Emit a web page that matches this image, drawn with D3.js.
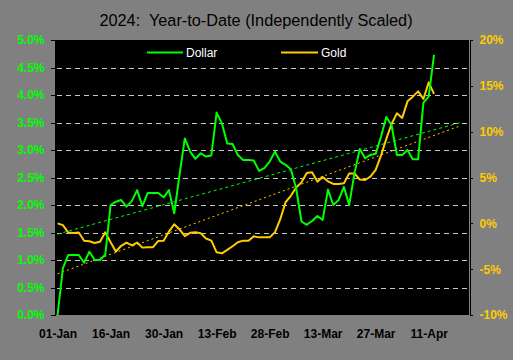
<!DOCTYPE html>
<html>
<head>
<meta charset="utf-8">
<script src="https://cdn.jsdelivr.net/npm/d3@7"></script>
<style>
  html, body { margin: 0; padding: 0; background: #808080; }
  svg { display: block; }
</style>
</head>
<body>
<svg id="chart" width="513" height="360"></svg>
<script>
// ---- data (trading-day index 0 = 01-Jan) ----
const dollar = [0.00, 0.85, 1.09, 1.09, 1.09, 0.95, 1.15, 1.00, 1.00, 1.10,
  2.00, 2.06, 2.09, 1.97, 2.07, 2.27, 1.98, 2.22, 2.22, 2.22,
  2.14, 2.27, 1.85, 2.55, 3.21, 2.97, 2.84, 2.94, 2.88, 2.90,
  3.68, 3.48, 3.12, 3.11, 2.91, 2.82, 2.82, 2.81, 2.62, 2.67,
  2.79, 2.97, 2.79, 2.73, 2.65, 2.30, 1.70, 1.64, 1.71, 1.80,
  1.73, 2.28, 2.00, 2.09, 2.33, 2.00, 2.58, 3.02, 2.85, 2.91,
  2.93, 3.24, 3.60, 3.45, 2.91, 2.91, 3.00, 2.83, 2.83, 3.86,
  3.97, 4.73];
const gold = [0.00, -0.20, -1.00, -1.05, -1.00, -1.90, -1.96, -2.14, -2.00, -0.98,
  -2.07, -3.07, -2.45, -2.10, -2.40, -2.10, -2.65, -2.60, -2.60, -1.92,
  -1.89, -0.90, -0.10, -0.67, -1.40, -1.04, -0.98, -1.09, -1.65, -1.89,
  -3.16, -3.27, -2.90, -2.50, -2.07, -1.89, -1.89, -1.42, -1.53, -1.53,
  -1.53, -0.98, 0.45, 2.30, 3.00, 3.90, 4.47, 5.50, 5.56, 4.55,
  5.06, 4.58, 4.30, 4.30, 4.36, 5.45, 5.45, 4.77, 4.73, 5.09,
  5.83, 7.39, 9.21, 10.84, 12.00, 11.50, 13.31, 13.82, 14.40, 13.57,
  15.38, 14.12];
const xTickLabels = ["01-Jan", "16-Jan", "30-Jan", "13-Feb", "28-Feb", "13-Mar", "27-Mar", "11-Apr"];
const xTickIndex = [0, 10, 20, 30, 40, 50, 60, 70];
const leftTicks = [0, 0.5, 1, 1.5, 2, 2.5, 3, 3.5, 4, 4.5, 5];
const rightTicks = [-10, -5, 0, 5, 10, 15, 20];
const seriesNames = ["Dollar", "Gold"];
const trendForward = 5;

// ---- layout ----
const L = 56, R = 469, T = 40, B = 315;
const svg = d3.select("#chart");
const font = "'Liberation Sans', Arial, sans-serif";

const x = d3.scaleLinear().domain([-0.3, 77.6]).range([L, R]);
const yL = d3.scaleLinear().domain([0, 5]).range([B, T]);
const yR = d3.scaleLinear().domain([-10, 20]).range([B, T]);

// title
svg.append("text").attr("x", 256).attr("y", 26).attr("text-anchor", "middle")
  .attr("font-family", font).attr("font-size", 16.3).attr("fill", "#000")
  .style("white-space", "pre")
  .text("2024:  Year-to-Date (Independently Scaled)");

// plot background
svg.append("rect").attr("x", L).attr("y", T).attr("width", R - L).attr("height", B - T).attr("fill", "#000");

// gridlines
svg.append("g").selectAll("line").data(leftTicks.filter(d => d > 0 && d < 5)).join("line")
  .attr("x1", L + 1).attr("x2", R).attr("y1", d => Math.round(yL(d)) + 0.5).attr("y2", d => Math.round(yL(d)) + 0.5)
  .attr("stroke", "#c8c8c8").attr("stroke-width", 1).attr("stroke-dasharray", "5,4")
  .attr("shape-rendering", "crispEdges");

// left axis
const gL = svg.append("g").attr("transform", `translate(${L - 0.5},0)`)
  .call(d3.axisLeft(yL).tickValues(leftTicks).tickSize(5).tickPadding(6).tickFormat(d => d.toFixed(1) + "%"));
gL.selectAll("path,line").attr("stroke", "#000").attr("shape-rendering", "crispEdges");
gL.selectAll("text").attr("fill", "#00ff00").attr("font-family", font).attr("font-size", 12).attr("font-weight", "bold");
gL.select(".domain").attr("d", `M-5,${T}H0V${B}H-5`);

// right axis
const gR = svg.append("g").attr("transform", `translate(${R + 0.5},0)`)
  .call(d3.axisRight(yR).tickValues(rightTicks).tickSize(3).tickPadding(7).tickFormat(d => d + "%"));
gR.selectAll("path,line").attr("stroke", "#000").attr("shape-rendering", "crispEdges");
gR.selectAll("text").attr("fill", "#ffcc00").attr("font-family", font).attr("font-size", 12).attr("font-weight", "bold");

// bottom axis (labels only)
const gB = svg.append("g").attr("transform", `translate(0,${B})`)
  .call(d3.axisBottom(x).tickValues(xTickIndex).tickSize(0).tickPadding(14.5).tickFormat((d, i) => xTickLabels[i]));
gB.select(".domain").remove();
gB.selectAll("text").attr("fill", "#000").attr("font-family", font).attr("font-size", 12).attr("font-weight", "bold");

// trendlines (least squares)
function fit(arr) {
  const n = arr.length;
  const mx = d3.mean(arr, (d, i) => i), my = d3.mean(arr);
  let sxy = 0, sxx = 0;
  arr.forEach((d, i) => { sxy += (i - mx) * (d - my); sxx += (i - mx) * (i - mx); });
  const b = sxy / sxx, a = my - b * mx;
  return [0, n - 1 + trendForward].map(i => [i, a + b * i]);
}
const lineL = d3.line().x(d => x(d[0])).y(d => yL(d[1]));
const lineR = d3.line().x(d => x(d[0])).y(d => yR(d[1]));

svg.append("path").attr("d", lineL(fit(dollar))).attr("fill", "none")
  .attr("stroke", "#00ff00").attr("stroke-width", 1).attr("stroke-dasharray", "3,3");
svg.append("path").attr("d", lineR(fit(gold))).attr("fill", "none")
  .attr("stroke", "#ffcc00").attr("stroke-width", 1).attr("stroke-dasharray", "2,3");

// series lines
svg.append("path").attr("d", lineR(gold.map((d, i) => [i, d]))).attr("fill", "none")
  .attr("stroke", "#ffcc00").attr("stroke-width", 2).attr("stroke-linejoin", "round");
svg.append("path").attr("d", lineL(dollar.map((d, i) => [i, d]))).attr("fill", "none")
  .attr("stroke", "#00ff00").attr("stroke-width", 2).attr("stroke-linejoin", "round");

// legend
const legend = [
  { name: seriesNames[0], color: "#00ff00", x1: 147, x2: 183, tx: 186 },
  { name: seriesNames[1], color: "#ffcc00", x1: 281, x2: 318, tx: 321 }
];
const lg = svg.append("g").selectAll("g").data(legend).join("g");
lg.append("line").attr("x1", d => d.x1).attr("x2", d => d.x2).attr("y1", 52.5).attr("y2", 52.5)
  .attr("stroke", d => d.color).attr("stroke-width", 2);
lg.append("text").attr("x", d => d.tx).attr("y", 56.5).attr("fill", "#fff")
  .attr("font-family", font).attr("font-size", 12).text(d => d.name);
</script>
</body>
</html>
